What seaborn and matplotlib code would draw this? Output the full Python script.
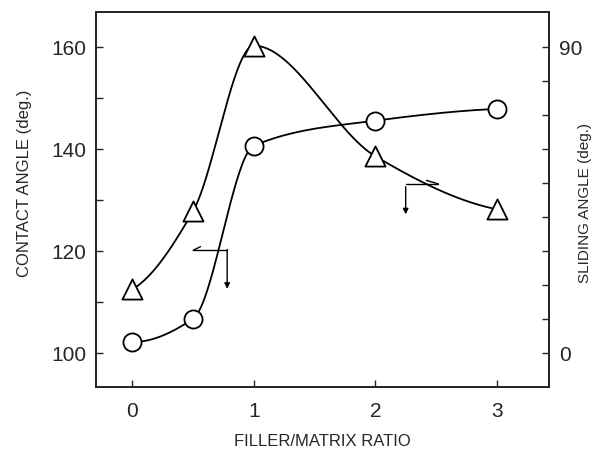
import numpy as np
import pandas as pd
import matplotlib
matplotlib.use("Agg")
import matplotlib.pyplot as plt
import seaborn as sns

# ---- data ----
ratio = [0, 0.5, 1, 2, 3]
contact_angle = [102.1, 106.7, 140.6, 145.5, 147.8]     # circles, left axis
sliding_angle = [18.7, 41.7, 90.3, 57.8, 42.2]          # triangles, right axis
left_ticks = [100, 120, 140, 160]
right_ticks = [0, 90]
x_ticks = [0, 1, 2, 3]


def pchip(x, y, xs):
    x = np.asarray(x, float); y = np.asarray(y, float)
    h = np.diff(x); d = np.diff(y) / h
    n = len(x); m = np.zeros(n)
    for k in range(1, n - 1):
        if d[k - 1] * d[k] > 0:
            w1 = 2 * h[k] + h[k - 1]; w2 = h[k] + 2 * h[k - 1]
            m[k] = (w1 + w2) / (w1 / d[k - 1] + w2 / d[k])
    m[0] = ((2 * h[0] + h[1]) * d[0] - h[0] * d[1]) / (h[0] + h[1])
    if np.sign(m[0]) != np.sign(d[0]): m[0] = 0
    m[-1] = ((2 * h[-1] + h[-2]) * d[-1] - h[-1] * d[-2]) / (h[-1] + h[-2])
    if np.sign(m[-1]) != np.sign(d[-1]): m[-1] = 0
    ys = np.empty_like(xs)
    for i, xv in enumerate(xs):
        k = min(np.searchsorted(x, xv, side="right") - 1, n - 2)
        t = (xv - x[k]) / h[k]
        h00 = 2 * t**3 - 3 * t**2 + 1; h10 = t**3 - 2 * t**2 + t
        h01 = -2 * t**3 + 3 * t**2; h11 = t**3 - t**2
        ys[i] = h00 * y[k] + h10 * h[k] * m[k] + h01 * y[k + 1] + h11 * h[k] * m[k + 1]
    return ys


sns.set_style("ticks")
plt.rcParams["font.family"] = ["Liberation Sans", "DejaVu Sans"]

W, H = 601, 456
fig = plt.figure(figsize=(W / 100, H / 100), dpi=100)
ax = fig.add_axes([96 / W, 1 - 388 / H, (549 - 96) / W, (388 - 13) / H])
ax2 = ax.twinx()

xs = np.linspace(0, 3, 400)
df_c = pd.DataFrame({"x": xs, "y": pchip(ratio, contact_angle, xs)})
df_s = pd.DataFrame({"x": xs, "y": pchip(ratio, sliding_angle, xs)})

sns.lineplot(data=df_c, x="x", y="y", ax=ax, color="black", lw=1.3, zorder=2)
sns.lineplot(data=df_s, x="x", y="y", ax=ax2, color="black", lw=1.3, zorder=2)

sns.scatterplot(x=ratio, y=contact_angle, ax=ax, marker="o", s=170,
                facecolor="white", edgecolor="black", linewidth=1.3, zorder=3)
sns.scatterplot(x=ratio, y=sliding_angle, ax=ax2, marker="^", s=210,
                facecolor="white", edgecolor="black", linewidth=1.3, zorder=3)

ax.set_xlim(-0.30, 3.43)
ax.set_ylim(93.3, 166.8)
ax2.set_ylim((93.3 - 100) * 1.5, (166.8 - 100) * 1.5)

ax.set_xticks(x_ticks)
ax.set_xticklabels([str(v) for v in x_ticks])
ax.set_yticks(left_ticks)
ax.set_yticks([110, 130, 150], minor=True)
ax.set_yticklabels([str(v) for v in left_ticks])
ax2.set_yticks(np.arange(0, 91, 10), minor=True)
ax2.set_yticks(right_ticks)
ax2.set_yticklabels([str(v) for v in right_ticks])

for a in (ax, ax2):
    a.tick_params(which="both", direction="in", length=5, width=1.0, labelsize=15, pad=7)
    for s in a.spines.values():
        s.set_linewidth(1.4)
        s.set_visible(True)
ax.tick_params(axis="x", pad=10)
ax.set_xlabel(""); ax.set_ylabel(""); ax2.set_ylabel("")

fig.text(322 / W, 1 - 442 / H, "FILLER/MATRIX RATIO", fontsize=12,
         ha="center", va="center")
fig.text(25 / W, 1 - 183 / H, "CONTACT ANGLE (deg.)", fontsize=12,
         rotation=90, ha="center", va="center")
fig.text(585 / W, 1 - 203 / H, "SLIDING ANGLE (deg.)", fontsize=11,
         rotation=90, ha="center", va="center")

# axis-indicator arrows
ax.plot([0.50, 0.78], [120.1, 120.1], color="black", lw=1.0)
ax.plot([0.50, 0.56], [120.1, 120.8], color="black", lw=1.0)
ax.annotate("", xy=(0.78, 112.0), xytext=(0.78, 120.8),
            arrowprops=dict(arrowstyle="-|>", color="black", lw=1.0, mutation_scale=8))
ax.plot([2.25, 2.52], [133.1, 133.1], color="black", lw=1.0)
ax.plot([2.52, 2.42], [133.1, 133.8], color="black", lw=1.0)
ax.annotate("", xy=(2.25, 126.6), xytext=(2.25, 133.1),
            arrowprops=dict(arrowstyle="-|>", color="black", lw=1.0, mutation_scale=8))

fig.savefig("out.png", dpi=100)
